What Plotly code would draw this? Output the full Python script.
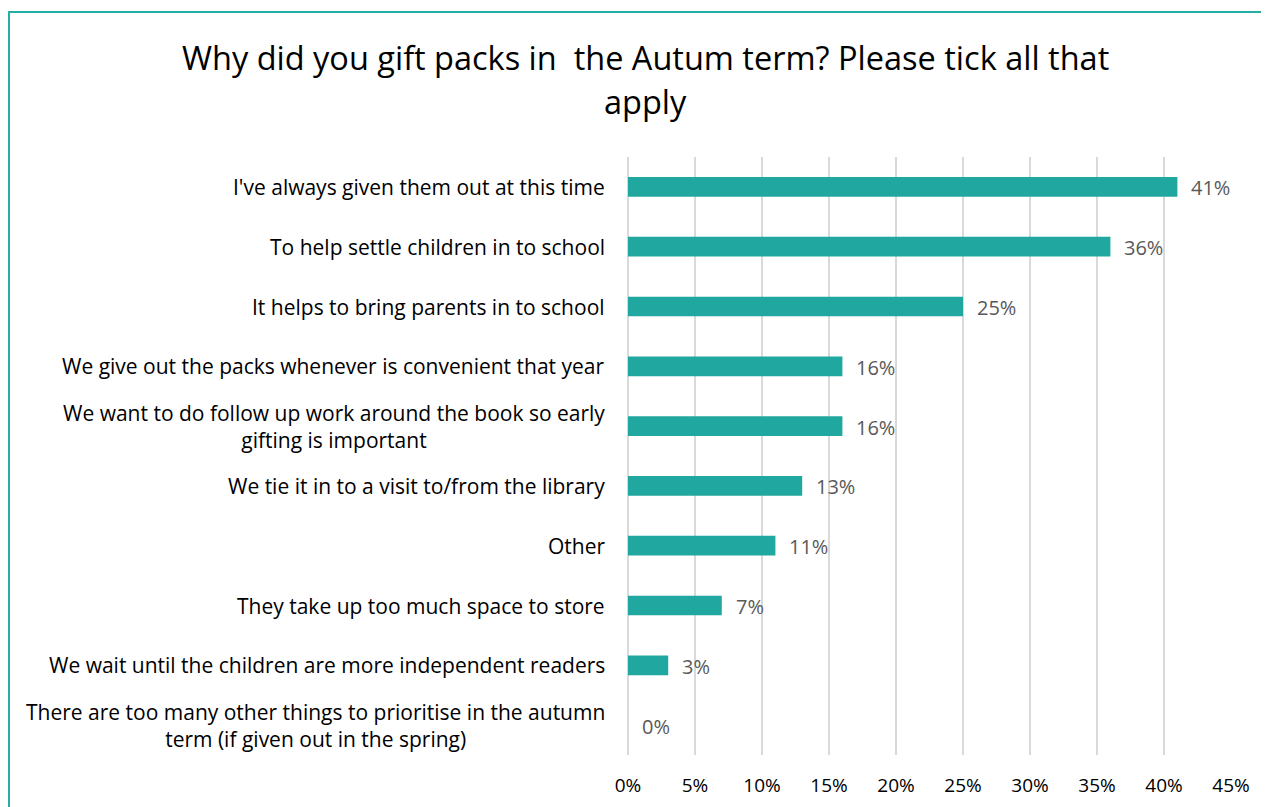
import plotly.graph_objects as go

categories = [
    "I've always given them out at this time",
    "To help settle children in to school",
    "It helps to bring parents in to school",
    "We give out the packs whenever is convenient that year",
    "We want to do follow up work around the book so early<br>gifting is important",
    "We tie it in to a visit to/from the library",
    "Other",
    "They take up too much space to store",
    "We wait until the children are more independent readers",
    "There are too many other things to prioritise in the autumn<br>term (if given out in the spring)",
]
values = [41, 36, 25, 16, 16, 13, 11, 7, 3, 0]
tick_vals = [0, 5, 10, 15, 20, 25, 30, 35, 40, 45]
tick_text = [f"{v}%" for v in tick_vals]
title_lines = ["Why did you gift packs in  the Autum term? Please tick all that", "apply"]

TEAL = "#20A79F"
FONT = "Open Sans"

# page has an 8px body margin; figure coords = page coords - 8
OFF = 8
W, H = 1269 - OFF, 807 - OFF
ml, mt = 628 - OFF, 157 - OFF
pw = 1231 - 628
ph = 755 - 157
mr = W - ml - pw
mb = H - mt - ph

fig = go.Figure(go.Bar(
    x=values,
    y=categories,
    orientation="h",
    marker=dict(color=TEAL, line=dict(width=0)),
    width=0.33,
    hoverinfo="x+y",
))

annotations = []
for c in categories:
    annotations.append(dict(
        x=0, xref="paper", y=c, yref="y",
        text=c, showarrow=False, xanchor="right", yanchor="middle",
        align="center", xshift=-21,
        font=dict(family=FONT, size=21, color="#000000"),
    ))
for c, v in zip(categories, values):
    annotations.append(dict(
        x=v, xref="x", y=c, yref="y",
        text=f"{v}%", showarrow=False, xanchor="left", yanchor="middle",
        xshift=12, yshift=-1,
        font=dict(family=FONT, size=20, color="#595959"),
    ))
for i, line in enumerate(title_lines):
    annotations.append(dict(
        x=(645 - 628) / pw, xref="paper",
        y=1 + (157 - 57 - 45 * i) / ph, yref="paper",
        text=line, showarrow=False, xanchor="center", yanchor="middle",
        font=dict(family=FONT, size=32.5, color="#000000"),
    ))

# outer border (left and top edges visible)
shapes = [dict(
    type="rect", xref="paper", yref="paper",
    x0=(9 - 628) / pw, x1=(1300 - 628) / pw,
    y0=(755 - 840) / ph, y1=(755 - 12) / ph,
    line=dict(color="#26ADA4", width=2), fillcolor="rgba(0,0,0,0)", layer="below",
)]

fig.update_layout(
    width=W, height=H,
    margin=dict(l=ml, r=mr, t=mt, b=mb),
    paper_bgcolor="white", plot_bgcolor="white",
    xaxis=dict(
        range=[0, 45], tickvals=tick_vals, ticktext=tick_text,
        showgrid=True, gridcolor="#D9D9D9", gridwidth=2,
        zeroline=True, zerolinecolor="#D9D9D9", zerolinewidth=2,
        showline=False, ticks="outside", ticklen=13, tickcolor="rgba(0,0,0,0)",
        tickfont=dict(family=FONT, size=19, color="#000000"),
        fixedrange=True, automargin=False,
    ),
    yaxis=dict(
        categoryorder="array", categoryarray=categories[::-1],
        showticklabels=False, showgrid=False, zeroline=False, showline=False,
        range=[-0.5, len(categories) - 0.5], automargin=False,
    ),
    annotations=annotations,
    shapes=shapes,
    showlegend=False,
)

fig.write_html("out.html")
